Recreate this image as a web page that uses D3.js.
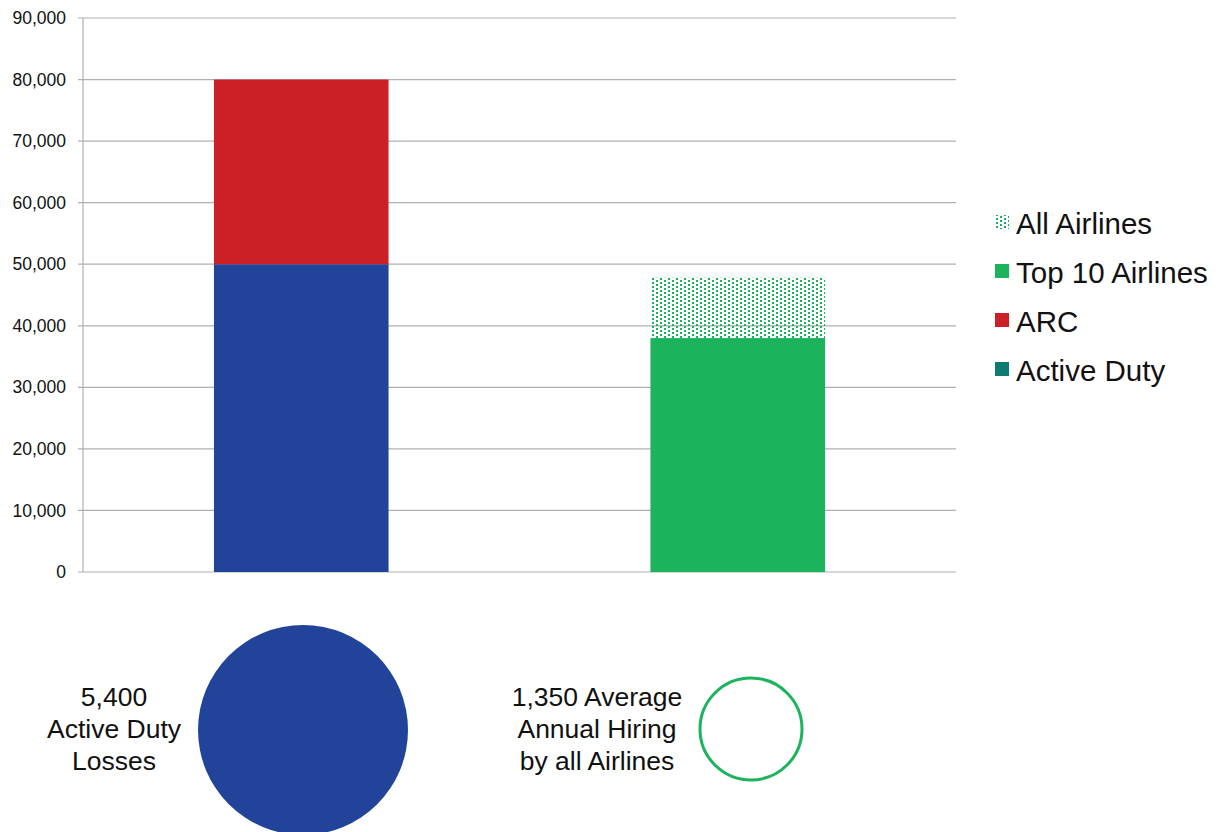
<!DOCTYPE html>
<html><head><meta charset="utf-8">
<script src="https://cdn.jsdelivr.net/npm/d3@7"></script>
<style>body{margin:0;background:#fff;} text{font-family:"Liberation Sans",Arial,sans-serif;}</style>
</head><body><svg id="c" width="1224" height="832"></svg>
<script>
const categories = ["Military", "Airlines"];
const activeDuty = [50000, 0];
const arc = [30000, 0];
const top10 = [0, 38000];
const allAirlines = [0, 9800];
const yTicks = [0,10000,20000,30000,40000,50000,60000,70000,80000,90000];
const legendLabels = ["All Airlines", "Top 10 Airlines", "ARC", "Active Duty"];
const bubbleValues = [5400, 1350];
const bubbleLabels = [["5,400","Active Duty","Losses"],["1,350 Average","Annual Hiring","by all Airlines"]];

const colors = {"Active Duty":"#21449A","ARC":"#CC2027","Top 10 Airlines":"#1BB35C","All Airlines":"url(#dots)"};
const legendColors = {"All Airlines":"url(#dots)","Top 10 Airlines":"#1BB35C","ARC":"#CC2027","Active Duty":"#0E7B73"};

const svg = d3.select("#c");
const defs = svg.append("defs");
const pat = defs.append("pattern").attr("id","dots").attr("patternUnits","userSpaceOnUse")
  .attr("width",8).attr("height",4);
pat.append("rect").attr("x",0).attr("y",0).attr("width",2).attr("height",2).attr("fill","#1BB35C");
pat.append("rect").attr("x",4).attr("y",2).attr("width",2).attr("height",2).attr("fill","#1BB35C");

const m = {l:83, r:956, t:18, b:572};
const x = d3.scaleBand().domain(categories).range([m.l, m.r]).paddingInner(0.6).paddingOuter(0.3);
const y = d3.scaleLinear().domain([0,90000]).range([m.b, m.t]);

// grid
const g = svg.append("g");
g.selectAll("line.grid").data(yTicks).join("line")
  .attr("x1", m.l-5).attr("x2", m.r).attr("y1", d=>y(d)).attr("y2", d=>y(d))
  .attr("stroke","#b0b0b0").attr("stroke-width",1.2);
g.append("line").attr("x1",m.l).attr("x2",m.l).attr("y1",m.t).attr("y2",m.b).attr("stroke","#b0b0b0").attr("stroke-width",1.2);
const fmt = d3.format(",");
g.selectAll("text.tick").data(yTicks).join("text")
  .attr("x", 66).attr("y", d=>y(d)).attr("dy","0.35em").attr("text-anchor","end")
  .attr("font-size",17.5).attr("fill","#111").text(d=>fmt(d));

// stacked bars
const rows = categories.map((c,i)=>({cat:c,"Active Duty":activeDuty[i],"ARC":arc[i],"Top 10 Airlines":top10[i],"All Airlines":allAirlines[i]}));
const keys = ["Active Duty","ARC","Top 10 Airlines","All Airlines"];
const stack = d3.stack().keys(keys)(rows);
svg.append("g").selectAll("g").data(stack).join("g").attr("fill", d=>colors[d.key])
  .selectAll("rect").data(d=>d).join("rect")
  .attr("x", d=>x(d.data.cat)).attr("width", x.bandwidth())
  .attr("y", d=>y(d[1])).attr("height", d=>y(d[0])-y(d[1]));

// legend
const lg = svg.append("g");
legendLabels.forEach((k,i)=>{
  const cy = 224 + i*49;
  lg.append("rect").attr("x",995).attr("y",cy-9).attr("width",14).attr("height",14).attr("fill",legendColors[k]);
  lg.append("text").attr("x",1016).attr("y",cy).attr("dy","0.35em").attr("font-size",29.5).attr("fill","#111").text(k);
});

// bubbles
const r = d3.scaleSqrt().domain([0,5400]).range([0,105]);
const bx = [303, 751];
const by = 730;
svg.append("circle").attr("cx",bx[0]).attr("cy",by).attr("r",r(bubbleValues[0])).attr("fill","#21449A");
svg.append("circle").attr("cx",bx[1]).attr("cy",by-1).attr("r",r(bubbleValues[1])-1.5).attr("fill","none").attr("stroke","#1BB35C").attr("stroke-width",3);
const tx = [114, 597];
bubbleLabels.forEach((lines,j)=>{
  lines.forEach((t,k)=>{
    svg.append("text").attr("x",tx[j]).attr("y",697+k*32).attr("dy","0.35em").attr("text-anchor","middle")
      .attr("font-size",26.5).attr("fill","#111").text(t);
  });
});
</script></body></html>
